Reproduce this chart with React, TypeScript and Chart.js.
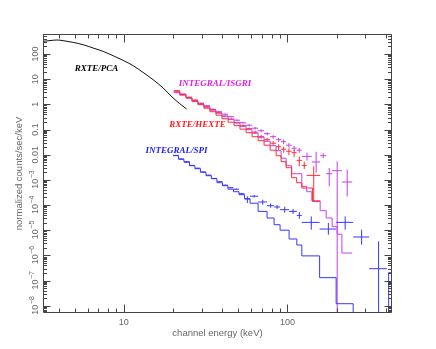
import React, { useEffect, useRef } from 'react';
import { Chart, registerables } from 'chart.js';

Chart.register(...registerables);

// ---------- axes ----------
const X_MIN = 3.205;
const X_MAX = 436;
const Y_MIN = 5.13e-9;
const Y_MAX = 623;

const xMajorTicks = [10, 100];
const xTickLabels = ['10', '100'];
const xMinorTicks = [4, 5, 6, 7, 8, 9, 20, 30, 40, 50, 60, 70, 80, 90, 200, 300, 400];
const yDecades = [-8, -7, -6, -5, -4, -3, -2, -1, 0, 1, 2];
const yTickLabels = ['10^-8', '10^-7', '10^-6', '10^-5', '10^-4', '10^-3', '0.01', '0.1', '1', '10', '100'];
const xTitle = 'channel energy (keV)';
const yTitle = 'normalized counts/sec/keV';

// ---------- RXTE/PCA ----------
const pcaEnergy = [3.21, 3.69, 3.9, 4.25, 4.9, 5.64, 6.49, 7.47, 8.6, 9.9, 11.4, 13.1, 15.1, 17.4, 20.0, 22.0, 24.2];
const pcaFlux = [318, 352, 360, 340, 289, 234, 173, 127, 85.5, 55.7, 34.3, 18.6, 9.53, 4.46, 1.79, 1.06, 0.65];

// ---------- RXTE/HEXTE ----------
const hexteModelEdges = [20.2, 22.0, 24.0, 26.1, 28.4, 30.9, 33.6, 36.6, 39.8, 43.4, 47.2, 51.3, 55.9, 60.8, 66.2, 72.0, 78.4, 85.3, 91.5, 98.2, 106.1, 113.9, 122.5, 142.3, 158.6];
const hexteModel = [3.48, 2.53, 1.84, 1.33, 0.968, 0.703, 0.51, 0.37, 0.269, 0.195, 0.142, 0.103, 0.0747, 0.0518, 0.0359, 0.0238, 0.0151, 0.00911, 0.00526, 0.00304, 0.00122, 0.00077, 0.000475, 0.000139];
const hexteEdges = [20.2, 22.0, 24.0, 26.1, 28.4, 30.9, 33.6, 36.6, 39.8, 43.4, 47.2, 51.3, 55.9, 60.8, 66.2, 72.0, 78.4, 85.3, 91.5, 98.2, 106.1, 113.9, 122.5, 131.1, 158.6];
const hexteData = [3.33, 2.53, 1.92, 1.46, 1.06, 0.806, 0.612, 0.465, 0.338, 0.257, 0.186, 0.142, 0.108, 0.0782, 0.0518, 0.0394, 0.0286, 0.0207, 0.0165, 0.0137, 0.012, 0.00593, 0.00375, 0.0015];
const hexteLow = [3.15, 2.4, 1.82, 1.38, 1.0, 0.76, 0.575, 0.435, 0.315, 0.238, 0.17, 0.128, 0.096, 0.067, 0.043, 0.032, 0.022, 0.015, 0.012, 0.0095, 0.008, 0.00342, 0.0027, 0.000139];
const hexteHigh = [3.51, 2.66, 2.02, 1.54, 1.12, 0.85, 0.65, 0.495, 0.361, 0.276, 0.202, 0.156, 0.12, 0.09, 0.061, 0.047, 0.035, 0.026, 0.021, 0.018, 0.016, 0.00854, 0.00526, 0.00342];

// ---------- INTEGRAL/ISGRI ----------
const isgriModelEdges = [20.2, 22.0, 24.0, 26.1, 28.4, 30.9, 33.6, 36.6, 39.8, 43.4, 47.2, 51.3, 55.9, 60.8, 66.2, 72.0, 78.4, 85.3, 91.5, 98.2, 106.1, 113.9, 122.5, 131.1, 141.1, 158.6, 172.6, 187.8, 201.5, 215.3, 249];
const isgriModel = [3.04, 2.31, 1.75, 1.33, 1.013, 0.77, 0.585, 0.445, 0.338, 0.257, 0.186, 0.135, 0.0983, 0.0714, 0.0495, 0.0343, 0.0227, 0.0144, 0.00725, 0.00365, 0.00175, 0.00175, 0.000549, 0.000338, 0.000148, 5.95e-5, 3.05e-5, 1.38e-5, 6.93e-6, 1.24e-6];
const isgriEdges = [20.2, 22.0, 24.0, 26.1, 28.4, 30.9, 33.6, 36.6, 39.8, 43.4, 47.2, 51.3, 55.9, 60.8, 66.2, 72.0, 78.4, 85.3, 91.5, 98.2, 106.1, 113.9, 122.5, 141.1, 158.6, 172.6, 187.8, 215.3, 249];
const isgriData = [2.9, 2.42, 1.84, 1.46, 1.11, 0.883, 0.641, 0.51, 0.406, 0.323, 0.234, 0.186, 0.148, 0.113, 0.0897, 0.0682, 0.0518, 0.0394, 0.0328, 0.0238, 0.0181, 0.0151, 0.00854, 0.00512, 0.00911, 0.00175, 0.00231, 0.000821];
const isgriLow = [2.75, 2.3, 1.75, 1.39, 1.05, 0.835, 0.605, 0.48, 0.38, 0.3, 0.215, 0.17, 0.133, 0.1, 0.078, 0.058, 0.043, 0.032, 0.026, 0.019, 0.014, 0.0118, 0.00577, 0.00192, 0.00725, 0.000549, 0, 0.00022];
const isgriHigh = [3.05, 2.54, 1.93, 1.53, 1.17, 0.93, 0.677, 0.54, 0.432, 0.346, 0.253, 0.202, 0.163, 0.126, 0.101, 0.078, 0.06, 0.047, 0.04, 0.029, 0.022, 0.0184, 0.012, 0.0131, 0.01145, 0.00296, 0.00541, 0.00253];

// ---------- INTEGRAL/SPI ----------
const spiModelEdges = [20.0, 21.6, 23.3, 25.2, 27.2, 29.4, 31.8, 34.3, 37.1, 40.1, 43.3, 46.8, 50.6, 54.7, 59.1, 66.2, 75.1, 82.9, 90.2, 102.4, 114.2, 122.5, 157.4, 198.6, 252.5, 316, 416, 520];
const spiModel = [0.00911, 0.00661, 0.00526, 0.00365, 0.00277, 0.00201, 0.00146, 0.00111, 0.00077, 0.000586, 0.000425, 0.000338, 0.000257, 0.000178, 0.000118, 5.58e-5, 3.05e-5, 1.65e-5, 1.0e-5, 4.47e-6, 2.58e-6, 9.52e-7, 1.3e-7, 1.2e-8, 0, 0, 2.05e-7];
const spiEdges = [20.0, 21.6, 23.3, 25.2, 27.2, 29.4, 31.8, 34.3, 37.1, 40.1, 43.3, 46.8, 50.6, 54.7, 59.1, 66.2, 75.1, 82.9, 90.2, 102.4, 114.2, 122.5, 157.4, 198.6, 252.5, 316, 406];
const spiData = [0.00936, 0.00674, 0.00502, 0.00375, 0.0029, 0.00205, 0.00153, 0.00114, 0.000844, 0.000613, 0.000488, 0.000425, 0.000282, 0.000173, 0.000224, 0.000132, 9.4e-5, 8.34e-5, 6.52e-5, 5.58e-5, 3.87e-5, 2.04e-5, 1.11e-5, 2.04e-5, 5.36e-6, 2.95e-7];
const spiLow = [0.009, 0.0065, 0.00482, 0.0036, 0.00278, 0.00196, 0.00146, 0.00109, 0.000805, 0.000585, 0.000462, 0.000398, 0.00026, 0.00012, 0.0002, 0.000103, 7.83e-5, 6.95e-5, 4.95e-5, 4.4e-5, 2.86e-5, 1.05e-5, 6.62e-6, 1.05e-5, 2.65e-6, 0];
const spiHigh = [0.0097, 0.007, 0.00522, 0.0039, 0.00302, 0.00214, 0.0016, 0.00119, 0.000885, 0.000641, 0.000514, 0.000452, 0.000304, 0.00022, 0.000248, 0.000163, 0.000113, 0.0001, 8.58e-5, 6.95e-5, 5.28e-5, 3.53e-5, 1.93e-5, 3.53e-5, 1.05e-5, 3.59e-6];

// ---------- annotations (data coordinates) ----------
const instrumentLabels = ['RXTE/PCA', 'INTEGRAL/ISGRI', 'RXTE/HEXTE', 'INTEGRAL/SPI'];
const labelEnergy = [6.8, 36.1, 28.2, 21.0];
const labelFlux = [25.4, 6.43, 0.151, 0.0144];

// ---------- styles ----------
const C_BLACK = '#111111';
const C_RED = '#ff3030';
const C_MAG = '#c73ff0';
const C_BLUE = '#3636ff';
const labelColors = ['#000000', '#e020e0', '#ff1a1a', '#1a1aff'];
const FRAME = '#444444';
const TEXT = '#666666';
const SANS = "'Liberation Sans', Arial, sans-serif";
const SERIF = "'Liberation Serif', 'Times New Roman', serif";
const FLOOR = 1e-12;

type P = { x: number; y: number | null };

function stepPoints(edges: number[], values: number[]): P[] {
  const pts: P[] = values.map((v, i) => ({ x: edges[i], y: v > 0 ? v : FLOOR }));
  const last = values[values.length - 1];
  pts.push({ x: edges[edges.length - 1], y: last > 0 ? last : FLOOR });
  return pts;
}

function crossPoints(edges: number[], values: number[], lo: number[], hi: number[]): P[] {
  const pts: P[] = [];
  values.forEach((v, i) => {
    const a = edges[i];
    const b = edges[i + 1];
    const m = (a + b) / 2;
    pts.push({ x: a, y: v }, { x: b, y: v }, { x: m, y: null });
    pts.push({ x: m, y: lo[i] > 0 ? lo[i] : FLOOR }, { x: m, y: hi[i] }, { x: m, y: null });
  });
  return pts;
}

function lineDs(data: P[], color: string, stepped: boolean, extra: any = {}) {
  return {
    type: 'line' as const,
    data,
    borderColor: color,
    backgroundColor: color,
    borderWidth: 1,
    pointRadius: 0,
    fill: false,
    stepped,
    spanGaps: false,
    tension: 0,
    ...extra,
  };
}

const bgPlugin = {
  id: 'bg',
  beforeDraw(chart: any) {
    const ctx = chart.ctx;
    ctx.save();
    ctx.fillStyle = '#ffffff';
    ctx.fillRect(0, 0, chart.width, chart.height);
    ctx.restore();
  },
};

const framePlugin = {
  id: 'frame',
  afterDatasetsDraw(chart: any) {
    const { ctx, chartArea: a, scales } = chart;
    const xs = scales.x;
    const ys = scales.y;
    const L = Math.round(a.left) + 0.5;
    const R = Math.round(a.right) - 0.5;
    const T = Math.round(a.top) + 0.5;
    const B = Math.round(a.bottom) - 0.5;
    ctx.save();
    ctx.strokeStyle = FRAME;
    ctx.lineWidth = 1;
    ctx.beginPath();
    ctx.rect(L, T, R - L, B - T);
    const xt = (v: number, len: number) => {
      const px = Math.round(xs.getPixelForValue(v)) + 0.5;
      ctx.moveTo(px, B);
      ctx.lineTo(px, B - len);
      ctx.moveTo(px, T);
      ctx.lineTo(px, T + len);
    };
    xMinorTicks.forEach((v) => xt(v, 4));
    xMajorTicks.forEach((v) => xt(v, 8));
    for (let d = -9; d <= 2; d++) {
      for (let m = 1; m <= 9; m++) {
        const v = m * Math.pow(10, d);
        if (v < Y_MIN || v > Y_MAX) continue;
        const py = Math.round(ys.getPixelForValue(v)) + 0.5;
        const len = m === 1 ? 7 : 3.5;
        ctx.moveTo(L, py);
        ctx.lineTo(L + len, py);
        ctx.moveTo(R, py);
        ctx.lineTo(R - len, py);
      }
    }
    ctx.stroke();
    ctx.restore();
  },
};

const textPlugin = {
  id: 'texts',
  afterDraw(chart: any) {
    const { ctx, chartArea: a, scales } = chart;
    const xs = scales.x;
    const ys = scales.y;
    ctx.save();
    ctx.fillStyle = TEXT;
    // x tick labels
    ctx.font = `9px ${SANS}`;
    ctx.textAlign = 'center';
    ctx.textBaseline = 'middle';
    xMajorTicks.forEach((v, i) => {
      ctx.fillText(xTickLabels[i], xs.getPixelForValue(v), a.bottom + 10);
    });
    // y tick labels (rotated)
    yDecades.forEach((d, i) => {
      const py = ys.getPixelForValue(Math.pow(10, d));
      const lab = yTickLabels[i];
      ctx.save();
      ctx.translate(a.left - 5, py);
      ctx.rotate(-Math.PI / 2);
      ctx.textBaseline = 'alphabetic';
      if (lab.includes('^')) {
        const [base, exp] = lab.split('^');
        const expText = exp.replace('-', '\u2212');
        ctx.font = `9px ${SANS}`;
        const wb = ctx.measureText(base).width;
        ctx.font = `7px ${SANS}`;
        const we = ctx.measureText(expText).width;
        const start = -(wb + we) / 2;
        ctx.font = `9px ${SANS}`;
        ctx.textAlign = 'left';
        ctx.fillText(base, start, 0);
        ctx.font = `7px ${SANS}`;
        ctx.fillText(expText, start + wb + 0.5, -4.5);
      } else {
        ctx.font = `9px ${SANS}`;
        ctx.textAlign = 'center';
        ctx.fillText(lab, 0, 0);
      }
      ctx.restore();
    });
    // axis titles
    ctx.font = `9.5px ${SANS}`;
    ctx.textAlign = 'center';
    ctx.textBaseline = 'middle';
    ctx.fillText(xTitle, (a.left + a.right) / 2, a.bottom + 20);
    ctx.save();
    ctx.translate(19, (a.top + a.bottom) / 2);
    ctx.rotate(-Math.PI / 2);
    ctx.fillText(yTitle, 0, 0);
    ctx.restore();
    // instrument labels
    ctx.font = `italic bold 9px ${SERIF}`;
    instrumentLabels.forEach((t, i) => {
      ctx.fillStyle = labelColors[i];
      ctx.fillText(t, xs.getPixelForValue(labelEnergy[i]), ys.getPixelForValue(labelFlux[i]));
    });
    ctx.restore();
  },
};

export default function App() {
  const ref = useRef<HTMLCanvasElement | null>(null);
  useEffect(() => {
    document.body.style.margin = '0';
    const canvas = ref.current;
    if (!canvas) return;
    const pca = pcaEnergy.map((e, i) => ({ x: e, y: pcaFlux[i] }));
    const chart = new Chart(canvas, {
      type: 'line',
      data: {
        datasets: [
          lineDs(stepPoints(spiModelEdges, spiModel), C_BLUE, true),
          lineDs(crossPoints(spiEdges, spiData, spiLow, spiHigh), C_BLUE, false),
          lineDs(stepPoints(hexteModelEdges, hexteModel), C_RED, true),
          lineDs(stepPoints(isgriModelEdges, isgriModel), C_MAG, true),
          lineDs(crossPoints(hexteEdges, hexteData, hexteLow, hexteHigh), C_RED, false),
          lineDs(crossPoints(isgriEdges, isgriData, isgriLow, isgriHigh), C_MAG, false),
          lineDs(pca, C_BLACK, false, { cubicInterpolationMode: 'monotone' }),
        ] as any,
      },
      options: {
        animation: false,
        responsive: false,
        events: [],
        layout: { padding: { top: 34, right: 44, left: 0, bottom: 0 } },
        plugins: { legend: { display: false }, tooltip: { enabled: false }, title: { display: false } },
        scales: {
          x: {
            type: 'logarithmic',
            min: X_MIN,
            max: X_MAX,
            bounds: 'data',
            grid: { display: false },
            border: { display: false },
            ticks: { display: false },
            afterFit: (s: any) => {
              s.height = 36;
            },
          },
          y: {
            type: 'logarithmic',
            min: Y_MIN,
            max: Y_MAX,
            bounds: 'data',
            grid: { display: false },
            border: { display: false },
            ticks: { display: false },
            afterFit: (s: any) => {
              s.width = 43;
            },
          },
        },
      } as any,
      plugins: [bgPlugin, framePlugin, textPlugin],
    });
    return () => chart.destroy();
  }, []);
  return (
    <div style={{ position: 'fixed', left: 0, top: 0, width: 436, height: 349, background: '#fff' }}>
      <canvas ref={ref} width={436} height={349} style={{ width: 436, height: 349, display: 'block' }} />
    </div>
  );
}
